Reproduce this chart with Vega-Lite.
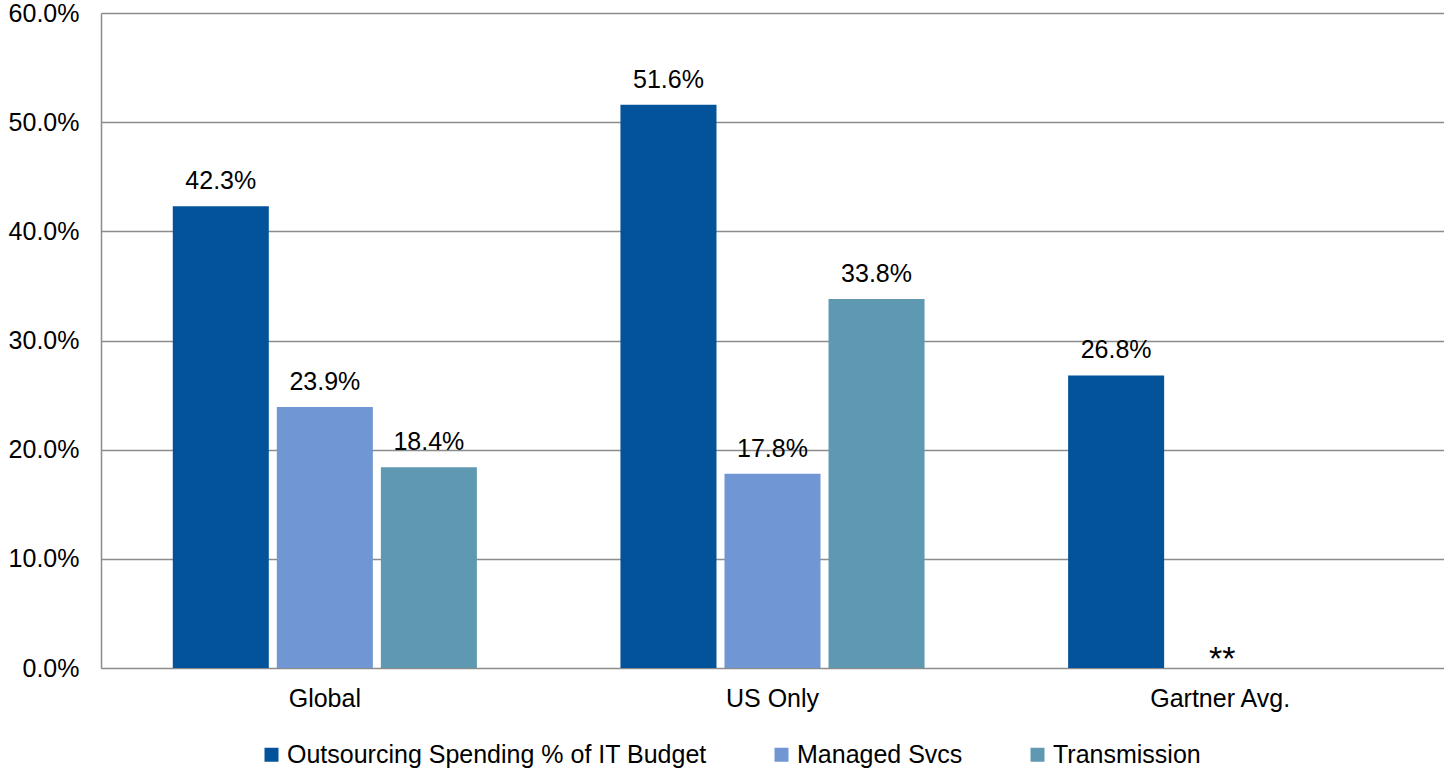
{
  "$schema": "https://vega.github.io/schema/vega-lite/v6.json",
  "width": 1343,
  "height": 655,
  "autosize": {"type": "none"},
  "padding": {"left": 101, "top": 13, "right": 0, "bottom": 104},
  "background": "white",
  "config": {
    "font": "Liberation Sans",
    "view": {"stroke": null},
    "axis": {"labelFont": "Liberation Sans", "labelFontSize": 25, "labelColor": "black"}
  },
  "data": {
    "values": [
      {"cat": "Global", "series": "Outsourcing Spending % of IT Budget", "value": 0.423, "label": "42.3%"},
      {"cat": "Global", "series": "Managed Svcs", "value": 0.239, "label": "23.9%"},
      {"cat": "Global", "series": "Transmission", "value": 0.184, "label": "18.4%"},
      {"cat": "US Only", "series": "Outsourcing Spending % of IT Budget", "value": 0.516, "label": "51.6%"},
      {"cat": "US Only", "series": "Managed Svcs", "value": 0.178, "label": "17.8%"},
      {"cat": "US Only", "series": "Transmission", "value": 0.338, "label": "33.8%"},
      {"cat": "Gartner Avg.", "series": "Outsourcing Spending % of IT Budget", "value": 0.268, "label": "26.8%"},
      {"cat": "Gartner Avg.", "series": "Managed Svcs", "value": 0, "label": "**"}
    ]
  },
  "encoding": {
    "x": {
      "field": "cat", "type": "nominal", "sort": ["Global", "US Only", "Gartner Avg."],
      "scale": {"paddingInner": 0, "paddingOuter": 0},
      "axis": {"title": null, "labelAngle": 0, "ticks": false, "domain": false, "labelPadding": 18}
    },
    "xOffset": {
      "field": "series", "type": "nominal",
      "sort": ["Outsourcing Spending % of IT Budget", "Managed Svcs", "Transmission"],
      "scale": {"paddingInner": 0.077, "paddingOuter": 0.69}
    },
    "y": {
      "field": "value", "type": "quantitative",
      "scale": {"domain": [0, 0.6], "nice": false},
      "axis": {
        "title": null, "format": ".1%", "values": [0, 0.1, 0.2, 0.3, 0.4, 0.5, 0.6],
        "ticks": false, "labelPadding": 22, "domain": true, "domainColor": "#8c8c8c", "domainWidth": 1.5,
        "grid": true, "gridColor": "#8c8c8c", "gridWidth": 1.5
      }
    }
  },
  "layer": [
    {
      "mark": {"type": "bar"},
      "encoding": {
        "color": {
          "field": "series", "type": "nominal",
          "sort": ["Outsourcing Spending % of IT Budget", "Managed Svcs", "Transmission"],
          "scale": {
            "domain": ["Outsourcing Spending % of IT Budget", "Managed Svcs", "Transmission"],
            "range": ["#02539A", "#7096D3", "#5E98B1"]
          },
          "legend": {
            "title": null, "orient": "none", "legendX": 158, "legendY": 729, "direction": "horizontal",
            "symbolType": "square", "symbolSize": 196, "symbolStrokeWidth": 0,
            "labelFontSize": 25, "labelFont": "Liberation Sans", "labelColor": "black",
            "columnPadding": 62, "labelOffset": 3, "labelLimit": 700, "padding": 0
          }
        }
      }
    },
    {
      "transform": [{"filter": "datum.label != '**'"}],
      "mark": {"type": "text", "baseline": "bottom", "dy": -12, "fontSize": 25, "font": "Liberation Sans", "color": "black"},
      "encoding": {"text": {"field": "label"}}
    },
    {
      "transform": [{"filter": "datum.label == '**'"}],
      "mark": {"type": "text", "baseline": "alphabetic", "dy": 2, "dx": 2, "fontSize": 34, "font": "Liberation Sans", "color": "black"},
      "encoding": {"text": {"field": "label"}}
    }
  ]
}
